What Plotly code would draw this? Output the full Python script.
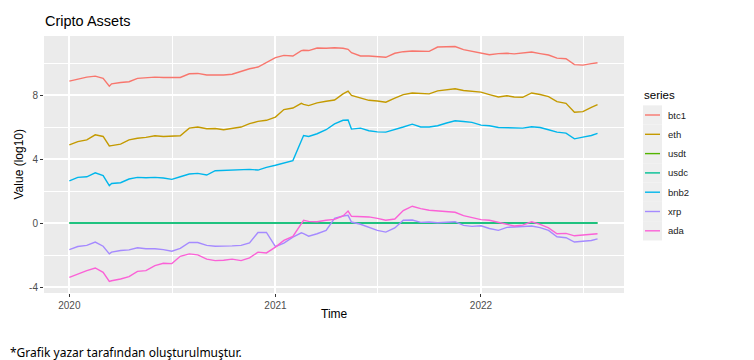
import plotly.graph_objects as go

# ---------------- data ----------------
dates = [
    "2020-01-01", "2020-01-16", "2020-02-01", "2020-02-16", "2020-03-01", "2020-03-12", "2020-03-16",
    "2020-04-01", "2020-04-16", "2020-05-01", "2020-05-16", "2020-06-01", "2020-06-16", "2020-07-01",
    "2020-07-16", "2020-08-01", "2020-08-16", "2020-09-01", "2020-09-16", "2020-10-01", "2020-10-16",
    "2020-11-01", "2020-11-16", "2020-12-01", "2020-12-16",
    "2021-01-01", "2021-01-16", "2021-02-01", "2021-02-16", "2021-02-20", "2021-03-01", "2021-03-16",
    "2021-04-01", "2021-04-16", "2021-05-01", "2021-05-10", "2021-05-16", "2021-06-01", "2021-06-16",
    "2021-07-01", "2021-07-16", "2021-08-01", "2021-08-16", "2021-09-01", "2021-09-16", "2021-10-01",
    "2021-10-16", "2021-11-01", "2021-11-16", "2021-12-01", "2021-12-16",
    "2022-01-01", "2022-01-16", "2022-02-01", "2022-02-16", "2022-03-01", "2022-03-16", "2022-04-01",
    "2022-04-16", "2022-05-01", "2022-05-16", "2022-06-01", "2022-06-16", "2022-07-01", "2022-07-16",
    "2022-07-27",
]

btc1 = [
    8.87, 9.01, 9.12, 9.18, 9.04, 8.55, 8.70, 8.78, 8.83, 9.04, 9.10, 9.12, 9.10, 9.08, 9.10, 9.33, 9.35,
    9.25, 9.25, 9.25, 9.30, 9.50, 9.64, 9.75, 10.02,
    10.34, 10.48, 10.44, 10.78, 10.80, 10.78, 10.94, 10.92, 10.96, 10.92, 10.86, 10.65, 10.44, 10.44,
    10.40, 10.36, 10.61, 10.71, 10.75, 10.73, 10.73, 11.00, 11.00, 11.03, 10.84, 10.75,
    10.65, 10.52, 10.59, 10.61, 10.57, 10.65, 10.69, 10.59, 10.50, 10.31, 10.27, 9.90, 9.87, 9.96, 10.02,
]

eth = [
    4.88, 5.09, 5.20, 5.51, 5.41, 4.82, 4.84, 4.93, 5.20, 5.30, 5.35, 5.45, 5.41, 5.41, 5.45, 5.93, 6.00,
    5.89, 5.91, 5.83, 5.91, 6.00, 6.21, 6.35, 6.42,
    6.62, 7.09, 7.19, 7.48, 7.42, 7.34, 7.51, 7.61, 7.69, 8.07, 8.24, 7.97, 7.80, 7.67,
    7.63, 7.55, 7.80, 8.03, 8.13, 8.09, 8.07, 8.26, 8.34, 8.39, 8.28, 8.24,
    8.18, 8.03, 7.88, 7.95, 7.88, 7.86, 8.13, 8.03, 7.90, 7.59, 7.48, 6.92, 6.96, 7.23, 7.40,
]

usdt = [
    0.0, 0.0, 0.0, 0.0, 0.0, 0.0, 0.0, 0.0, 0.0, 0.0, 0.0, 0.0, 0.0, 0.0, 0.0, 0.0, 0.0,
    0.0, 0.0, 0.0, 0.0, 0.0, 0.0, 0.0, 0.0,
    0.0, 0.0, 0.0, 0.0, 0.0, 0.0, 0.0, 0.0, 0.0, 0.0, 0.0, 0.0, 0.0, 0.0,
    0.0, 0.0, 0.0, 0.0, 0.0, 0.0, 0.0, 0.0, 0.0, 0.0, 0.0, 0.0,
    0.0, 0.0, 0.0, 0.0, 0.0, 0.0, 0.0, 0.0, 0.0, 0.0, 0.0, 0.0, 0.0, 0.0, 0.0,
]

usdc = [
    0.0, 0.0, 0.0, 0.0, 0.0, 0.0, 0.0, 0.0, 0.0, 0.0, 0.0, 0.0, 0.0, 0.0, 0.0, 0.0, 0.0,
    0.0, 0.0, 0.0, 0.0, 0.0, 0.0, 0.0, 0.0,
    0.0, 0.0, 0.0, 0.0, 0.0, 0.0, 0.0, 0.0, 0.0, 0.0, 0.0, 0.0, 0.0, 0.0,
    0.0, 0.0, 0.0, 0.0, 0.0, 0.0, 0.0, 0.0, 0.0, 0.0, 0.0, 0.0,
    0.0, 0.0, 0.0, 0.0, 0.0, 0.0, 0.0, 0.0, 0.0, 0.0, 0.0, 0.0, 0.0, 0.0, 0.0,
]

bnb2 = [
    2.64, 2.85, 2.89, 3.14, 2.96, 2.33, 2.47, 2.52, 2.75, 2.85, 2.83, 2.85, 2.81, 2.73, 2.89, 3.06, 3.10,
    3.00, 3.27, 3.29, 3.33, 3.31, 3.35, 3.31, 3.48,
    3.61, 3.73, 3.90, 5.14, 5.47, 5.41, 5.58, 5.83, 6.20, 6.42, 6.44, 5.87, 5.93, 5.77,
    5.70, 5.68, 5.83, 6.00, 6.18, 6.00, 6.00, 6.08, 6.25, 6.39, 6.35, 6.29,
    6.12, 6.08, 5.97, 5.95, 5.91, 5.93, 6.02, 5.97, 5.83, 5.68, 5.62, 5.26, 5.37, 5.47, 5.60,
]

xrp = [
    -1.66, -1.47, -1.40, -1.19, -1.45, -1.93, -1.82, -1.72, -1.68, -1.55, -1.61, -1.61, -1.66, -1.76,
    -1.59, -1.22, -1.22, -1.40, -1.45, -1.45, -1.43, -1.40, -1.24, -0.59, -0.59,
    -1.47, -1.26, -0.88, -0.61, -0.67, -0.82, -0.67, -0.46, 0.29, 0.44, 0.48, 0.06, -0.08, -0.29,
    -0.46, -0.57, -0.31, 0.17, 0.19, 0.04, 0.06, 0.02, 0.06, 0.08, -0.15, -0.21,
    -0.17, -0.34, -0.46, -0.27, -0.25, -0.23, -0.19, -0.29, -0.46, -0.86, -0.92, -1.19, -1.15, -1.09, -0.99,
]

ada = [
    -3.40, -3.19, -2.98, -2.81, -3.08, -3.65, -3.61, -3.50, -3.35, -3.02, -2.98, -2.66, -2.52, -2.54,
    -2.08, -1.93, -1.99, -2.26, -2.35, -2.33, -2.26, -2.35, -2.18, -1.82, -1.87,
    -1.51, -1.09, -0.84, -0.08, 0.17, 0.10, 0.08, 0.17, 0.23, 0.44, 0.75, 0.42, 0.42, 0.38,
    0.29, 0.17, 0.25, 0.78, 1.05, 0.90, 0.80, 0.75, 0.71, 0.67, 0.46, 0.34,
    0.21, 0.17, 0.04, -0.06, -0.19, -0.13, 0.08, -0.08, -0.31, -0.67, -0.65, -0.80, -0.75, -0.73, -0.67,
]

series_names = ["btc1", "eth", "usdt", "usdc", "bnb2", "xrp", "ada"]
series_values = [btc1, eth, usdt, usdc, bnb2, xrp, ada]
series_colors = ["#F8766D", "#C49A00", "#53B400", "#00C094", "#00B6EB", "#A58AFF", "#FB61D7"]

x_tick_vals = ["2020-01-01", "2021-01-01", "2022-01-01"]
x_tick_text = ["2020", "2021", "2022"]
x_minor_vals = ["2020-07-02", "2021-07-02", "2022-07-02"]
y_tick_vals = [-4, 0, 4, 8]
y_minor_vals = [-2, 2, 6, 10]

title_text = "Cripto Assets"
x_title = "Time"
y_title = "Value (log10)"
legend_title = "series"
caption = "*Grafik yazar tarafından oluşturulmuştur."

# ---------------- layout geometry (pixels) ----------------
W, H = 754, 360
PL, PR, PT, PB = 44, 624, 36, 293   # panel edges
PW, PH = PR - PL, PB - PT

def px(x):
    return (x - PL) / PW

def py(y):
    return (PB - y) / PH

FONT = "Liberation Sans, Arial, sans-serif"

fig = go.Figure()
for name, vals, col in zip(series_names, series_values, series_colors):
    fig.add_trace(go.Scatter(
        x=dates, y=vals, mode="lines", name=name,
        line=dict(color=col, width=1.4), showlegend=False,
        hoverinfo="x+y+name",
    ))

axis_common = dict(
    showline=False, zeroline=False, ticks="outside", ticklen=3, tickwidth=1,
    tickcolor="#333333", gridcolor="#FFFFFF", gridwidth=1.6,
    tickfont=dict(family=FONT, size=10, color="#4D4D4D"),
)

fig.update_layout(
    width=W, height=H,
    margin=dict(l=PL, r=W - PR, t=PT, b=H - PB, pad=0),
    paper_bgcolor="#FFFFFF", plot_bgcolor="#EBEBEB",
    font=dict(family=FONT, color="#000000"),
    xaxis=dict(
        type="date", range=["2019-11-17", "2022-09-12"],
        tickmode="array", tickvals=x_tick_vals, ticktext=x_tick_text,
        minor=dict(tickvals=x_minor_vals, showgrid=True, gridcolor="#FFFFFF",
                   gridwidth=0.7, ticks=""),
        **axis_common,
    ),
    yaxis=dict(
        range=[-4.375, 11.69],
        tickmode="array", tickvals=y_tick_vals, ticktext=[str(v) for v in y_tick_vals],
        minor=dict(tickvals=y_minor_vals, showgrid=True, gridcolor="#FFFFFF",
                   gridwidth=0.7, ticks=""),
        **axis_common,
    ),
    showlegend=False,
)

annotations = [
    dict(text=title_text, x=px(43), y=py(21.5), xanchor="left", yanchor="middle",
         font=dict(family=FONT, size=14.5, color="#000000")),
    dict(text=x_title, x=px(334), y=py(314), xanchor="center", yanchor="middle",
         font=dict(family=FONT, size=12, color="#000000")),
    dict(text=y_title, x=px(18), y=py(164.5), xanchor="center", yanchor="middle",
         textangle=-90, font=dict(family=FONT, size=12, color="#000000")),
    dict(text=caption, x=px(8), y=py(352), xanchor="left", yanchor="middle",
         font=dict(family="Noto Sans, Open Sans, sans-serif", size=12, color="#000000")),
    dict(text=legend_title, x=px(642), y=py(95), xanchor="left", yanchor="middle",
         font=dict(family=FONT, size=11.5, color="#000000")),
]

shapes = []
item_y0 = 115.0
item_step = 19.3
for i, (name, col) in enumerate(zip(series_names, series_colors)):
    yc = item_y0 + i * item_step
    shapes.append(dict(type="rect", xref="paper", yref="paper",
                       x0=px(643), x1=px(662), y0=py(yc + item_step / 2), y1=py(yc - item_step / 2),
                       fillcolor="#EEEEEE", line=dict(width=0), layer="above"))
    shapes.append(dict(type="line", xref="paper", yref="paper",
                       x0=px(645), x1=px(660), y0=py(yc), y1=py(yc),
                       line=dict(color=col, width=1.4), layer="above"))
    annotations.append(dict(text=name, x=px(666), y=py(yc), xanchor="left", yanchor="middle",
                            font=dict(family=FONT, size=9.5, color="#1A1A1A")))

for a in annotations:
    a.update(xref="paper", yref="paper", showarrow=False)

fig.update_layout(annotations=annotations, shapes=shapes)

fig.write_html(
    "out.html",
    config={"displayModeBar": False},
    post_script="document.body.style.margin='0';document.body.style.padding='0';",
)
